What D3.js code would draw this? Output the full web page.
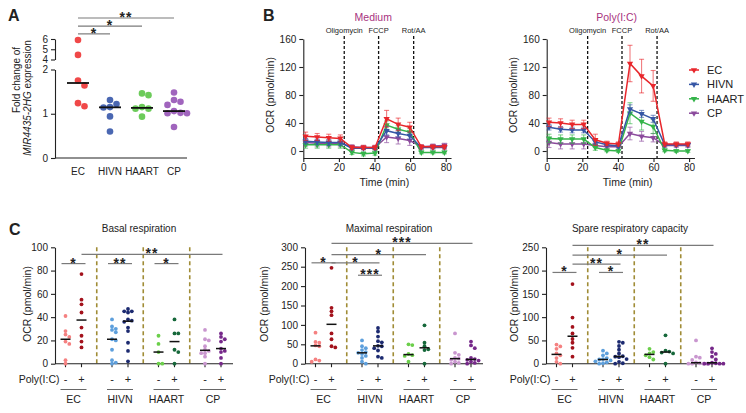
<!DOCTYPE html>
<html>
<head>
<meta charset="utf-8">
<script src="https://cdn.jsdelivr.net/npm/d3@7"></script>
<style>
body { margin: 0; background: #fff; }
svg text { font-family: "Liberation Sans", Arial, sans-serif; fill: #222; }
</style>
</head>
<body>
<svg id="fig" width="746" height="413"></svg>
<script>
var groups = ["EC", "HIVN", "HAART", "CP"];

// A - fold change of MIR4435-2HG expression
var foldEC = [5.9, 4.45, 1.75, 1.64, 1.24, 1.17],
	foldHIVN = [1.31, 1.22, 1.15, 1.14, 0.94, 0.6],
	foldHAART = [1.46, 1.42, 1.15, 1.115, 1.115, 0.935],
	foldCP = [1.48, 1.31, 1.27, 1.2, 1.06, 1.02, 1.01, 1.01, 0.7];
// [target group, bracket height, label], all compared with EC
var foldSig = [[1, 6.5, "*"], [2, 7.25, "*"], [3, 8.05, "**"]];

// B - Seahorse OCR traces (mean, error)
var timePoints = [1.3, 7.8, 14.3, 20.8, 27.3, 33.8, 40.3, 46.8, 53.3, 59.8, 66.3, 72.8, 79.3];
var injectionTimes = [23, 42.3, 62],
	injectionLabels = ["Oligomycin", "FCCP", "Rot/AA"];

var mediumEC = [21, 20, 19, 18, 5, 5, 5, 46, 38, 34, 6, 6, 6],
	mediumHIVN = [14, 13, 12, 12, 4, 4, 4, 29, 25, 22, 5, 5, 5],
	mediumHAART = [9, 9, 9, 9, -2, -4, -3, 37, 31, 27, -2, -2, -2],
	mediumCP = [12, 11, 11, 11, 6, 5, 5, 20, 18, 15, 6, 7, 8];
var mediumErrEC = [6, 5, 5, 5, 3, 3, 3, 12, 9, 7, 3, 3, 3],
	mediumErrHIVN = [4, 4, 4, 4, 2, 2, 2, 6, 5, 5, 2, 2, 2],
	mediumErrHAART = [5, 5, 5, 5, 3, 3, 3, 6, 5, 5, 2, 2, 2],
	mediumErrCP = [5, 5, 5, 5, 3, 3, 3, 8, 8, 7, 3, 3, 3];

var polyEC = [41, 40, 38, 38, 16, 11, 10, 125, 107, 93, 10, 10, 10],
	polyHIVN = [34, 31, 30, 30, 13, 9, 7, 60, 53, 46, 9, 9, 9],
	polyHAART = [18, 17, 17, 17, 5, 1, 0, 54, 42, 35, 1, 0, 0],
	polyCP = [12, 10, 10, 10, 8, 6, 6, 25, 21, 19, 8, 8, 8];
var polyErrEC = [6, 6, 6, 6, 8, 3, 3, 26, 24, 22, 3, 3, 3],
	polyErrHIVN = [4, 4, 4, 4, 3, 2, 2, 6, 5, 5, 2, 2, 2],
	polyErrHAART = [6, 6, 6, 6, 4, 2, 2, 15, 12, 10, 2, 2, 2],
	polyErrCP = [7, 7, 7, 7, 3, 3, 3, 9, 7, 6, 3, 3, 3];

// C - respiration parameters, per group: [EC, HIVN, HAART, CP]
var basalMinus = [[41, 28, 25, 23, 19, 17, 3, 0], [38, 32, 30, 29, 27, 21, 20, 12, 3, 1, 0], [24, 17, 10, 0, 0], [29, 21, 20, 15, 12, 11, 9, 9, 6, 0]],
	basalPlus = [[77, 55, 51, 44, 31, 24, 19, 14], [47, 45, 45, 44, 38, 37, 36, 31, 28, 18, 11, 2], [38, 26, 26, 12, 10, 0], [26, 23, 21, 19, 13, 11, 10, 5, 0]];
var maximalMinus = [[80, 56, 54, 47, 45, 11, 8, 5], [60, 45, 40, 35, 30, 28, 25, 20, 15, 5, 0], [50, 48, 25, 22, 20, 5], [78, 28, 23, 15, 13, 10, 5, 2, 0]],
	maximalPlus = [[247, 144, 135, 125, 78, 63, 45, 42], [92, 83, 70, 58, 55, 46, 45, 40, 34, 18, 15], [99, 54, 45, 37, 35, 0], [57, 47, 40, 15, 12, 10, 8, 5, 2, 0]];
var spareMinus = [[41, 37, 32, 22, 18, 12, 4, 0], [28, 22, 18, 12, 10, 9, 7, 5, 3, 1, 0], [32, 25, 22, 18, 14, 9], [50, 15, 13, 8, 3, 1, 0, 0, 0, 0]],
	sparePlus = [[171, 99, 79, 65, 53, 45, 34, 15], [47, 45, 38, 30, 22, 16, 15, 14, 10, 4, 1, 0], [61, 28, 26, 24, 22, 0], [33, 25, 21, 15, 9, 2, 1, 0, 0, 0, 0]];
// [from group, from cond, to group, to cond, height (data units), label]
var basalSig = [[0, 0, 0, 1, 86, "*"], [1, 0, 1, 1, 86, "**"], [2, 0, 2, 1, 86, "*"], [0, 1, 3, 1, 94, "**"]],
	maximalSig = [[0, 0, 0, 1, 260, "*"], [0, 1, 1, 1, 260, "*"], [1, 0, 1, 1, 228, "***"], [0, 1, 2, 1, 281, "*"], [0, 1, 3, 1, 310, "***"]],
	spareSig = [[0, 0, 0, 1, 196, "*"], [1, 0, 1, 1, 196, "*"], [0, 1, 1, 1, 214, "**"], [0, 1, 2, 1, 233, "*"], [0, 1, 3, 1, 254, "**"]];

// --- STYLE --- //
var ink = "#222",
	dotColorsA = ["#f04848", "#4a67b2", "#6ccb5a", "#a064bd"],
	lineColors = ["#e8262b", "#3656a5", "#35b44a", "#8b4a9c"],
	minusColors = ["#f58181", "#5d9fdc", "#6bcf4a", "#c996cf"],
	plusColors = ["#a3121c", "#1c2a70", "#16683a", "#76288a"],
	titleColor = "#a8327e",
	sigGray = "#7a7a7a",
	dashGold = "#a08c36";

var svg = d3.select("#fig");

function styleAxis(g, size) {
	g.attr("font-family", null).attr("font-size", null);
	g.selectAll(".domain").attr("stroke", ink).attr("stroke-width", 1.1);
	g.selectAll(".tick line").attr("stroke", ink).attr("stroke-width", 1.1);
	g.selectAll(".tick text").attr("fill", ink).style("font-size", (size || 10) + "px");
}

// simple column dodge so equal values sit side by side
function swarm(values, y, r, step) {
	var order = d3.range(values.length).sort(function(a, b) { return values[b] - values[a]; }),
		placed = [],
		offsets = [];
	order.forEach(function(i) {
		var cy = y(values[i]), dx = 0;
		for (var k = 0; k < 40; k++) {
			dx = (k % 2 ? 1 : -1) * Math.ceil(k / 2) * step;
			var hit = placed.some(function(p) { return Math.abs(p.x - dx) < step * 0.9 && Math.abs(p.y - cy) < r * 1.8; });
			if (!hit) break;
		}
		placed.push({x: dx, y: cy});
		offsets[i] = dx;
	});
	return offsets;
}

function letter(t, x, y) {
	svg.append("text").attr("x", x).attr("y", y).text(t)
		.style("font-weight", "bold").style("font-size", "16px");
}

function stars(g, x, y, label) {
	g.append("text").attr("x", x).attr("y", y + 4).attr("text-anchor", "middle")
		.style("font-size", "14px").style("font-weight", "bold").style("letter-spacing", "1px")
		.text(label);
}

// --- PANEL A --- //
letter("A", 8, 21);
var aTop = d3.scaleLinear().domain([4, 6]).range([59.5, 39]),
	aBot = d3.scaleLinear().domain([0, 2]).range([158, 69.5]),
	aY = function(v) { return v > 3 ? aTop(v) : aBot(v); },
	aX = d3.scalePoint().domain(groups).range([78, 174]),
	aLeft = 55, aRight = 187;
var gA = svg.append("g");
gA.append("g").attr("transform", "translate(" + aLeft + ",0)")
	.call(d3.axisLeft(aBot).tickValues([0, 1, 2]).tickFormat(d3.format("d")).tickSize(4).tickSizeOuter(0)).call(styleAxis);
gA.append("g").attr("transform", "translate(" + aLeft + ",0)")
	.call(d3.axisLeft(aTop).tickValues([4, 5, 6]).tickFormat(d3.format("d")).tickSize(4).tickSizeOuter(0)).call(styleAxis);
gA.append("line").attr("x1", aLeft).attr("x2", aRight).attr("y1", aBot(0)).attr("y2", aBot(0))
	.attr("stroke", ink).attr("stroke-width", 1.1);
groups.forEach(function(g) {
	gA.append("text").attr("x", aX(g)).attr("y", 174.5).attr("text-anchor", "middle")
		.style("font-size", "10px").text(g);
});
[foldEC, foldHIVN, foldHAART, foldCP].forEach(function(vals, gi) {
	var cx = aX(groups[gi]),
		off = swarm(vals, aY, 3.3, 6.5);
	gA.selectAll(null).data(vals).enter().append("circle")
		.attr("cx", function(d, i) { return cx + off[i]; })
		.attr("cy", function(d) { return aY(d); })
		.attr("r", 3.3)
		.attr("fill", dotColorsA[gi]);
	var m = d3.median(vals);
	gA.append("line").attr("x1", cx - 11).attr("x2", cx + 11).attr("y1", aY(m)).attr("y2", aY(m))
		.attr("stroke", "#111").attr("stroke-width", 1.8);
});
foldSig.forEach(function(s) {
	var y = aTop(s[1]), x1 = aX(groups[0]), x2 = aX(groups[s[0]]);
	gA.append("line").attr("x1", x1).attr("x2", x2).attr("y1", y).attr("y2", y)
		.attr("stroke", sigGray).attr("stroke-width", 1.2);
	stars(gA, (x1 + x2) / 2, y, s[2]);
});
gA.append("text").attr("transform", "translate(19.5,80) rotate(-90)").attr("text-anchor", "middle")
	.style("font-size", "10px").text("Fold change of");
var t2 = gA.append("text").attr("transform", "translate(31,98) rotate(-90)").attr("text-anchor", "middle")
	.style("font-size", "10px");
t2.append("tspan").style("font-style", "italic").text("MIR4435-2HG");
t2.append("tspan").text(" expression");

// --- PANEL B --- //
letter("B", 263, 21);
var bPanels = [
	{title: "Medium", left: 303.3, series: [mediumEC, mediumHIVN, mediumHAART, mediumCP],
		errors: [mediumErrEC, mediumErrHIVN, mediumErrHAART, mediumErrCP]},
	{title: "Poly(I:C)", left: 546.7, series: [polyEC, polyHIVN, polyHAART, polyCP],
		errors: [polyErrEC, polyErrHIVN, polyErrHAART, polyErrCP], legend: true}
];
var yB = d3.scaleLinear().domain([-10, 160]).range([158, 39]),
	tri = d3.symbol().type(d3.symbolTriangle).size(17);

bPanels.forEach(function(p) {
	var x = d3.scaleLinear().domain([0, 83]).range([p.left, p.left + 83 * 1.78]),
		g = svg.append("g");

	g.append("g").attr("transform", "translate(" + p.left + ",0)")
		.call(d3.axisLeft(yB).tickValues([0, 40, 80, 120, 160]).tickSize(4).tickSizeOuter(0)).call(styleAxis);
	g.append("g").attr("transform", "translate(0," + yB(-10) + ")")
		.call(d3.axisBottom(x).tickValues([0, 20, 40, 60, 80]).tickSize(4).tickPadding(2).tickSizeOuter(0)).call(styleAxis);

	injectionTimes.forEach(function(t, i) {
		g.append("line").attr("x1", x(t)).attr("x2", x(t)).attr("y1", 36).attr("y2", yB(-10))
			.attr("stroke", "#111").attr("stroke-width", 1.3).attr("stroke-dasharray", "3,2");
		g.append("text").attr("x", x(t)).attr("y", 32.5).attr("text-anchor", "middle")
			.style("font-size", "7.5px").text(injectionLabels[i]);
	});

	// CP first so EC ends on top
	[3, 2, 1, 0].forEach(function(s) {
		var vals = p.series[s], errs = p.errors[s], col = lineColors[s];
		var eb = g.append("g").attr("stroke", col).attr("stroke-opacity", 0.6).attr("stroke-width", 1.1);
		vals.forEach(function(v, i) {
			var cx = x(timePoints[i]);
			eb.append("line").attr("x1", cx).attr("x2", cx).attr("y1", yB(v - errs[i])).attr("y2", yB(v + errs[i]));
			eb.append("line").attr("x1", cx - 2.5).attr("x2", cx + 2.5).attr("y1", yB(v + errs[i])).attr("y2", yB(v + errs[i]));
			eb.append("line").attr("x1", cx - 2.5).attr("x2", cx + 2.5).attr("y1", yB(v - errs[i])).attr("y2", yB(v - errs[i]));
		});
		g.append("path").datum(vals)
			.attr("fill", "none").attr("stroke", col).attr("stroke-width", 1.5)
			.attr("d", d3.line().x(function(d, i) { return x(timePoints[i]); }).y(function(d) { return yB(d); }));
		g.selectAll(null).data(vals).enter().append("path")
			.attr("d", tri)
			.attr("transform", function(d, i) { return "translate(" + x(timePoints[i]) + "," + yB(d) + ") rotate(180)"; })
			.attr("fill", col);
	});

	g.append("text").attr("x", p.left + 70).attr("y", 21).attr("text-anchor", "middle")
		.style("font-size", "10.5px").style("fill", titleColor).text(p.title);
	g.append("text").attr("x", x(45.5)).attr("y", 185.5).attr("text-anchor", "middle")
		.style("font-size", "10.5px").text("Time (min)");
	g.append("text").attr("transform", "translate(" + (p.left - 29.5) + ",95) rotate(-90)").attr("text-anchor", "middle")
		.style("font-size", "10.5px").text("OCR (pmol/min)");

	if (p.legend) {
		groups.forEach(function(name, i) {
			var ly = 70 + i * 14.4, lx = 694;
			g.append("line").attr("x1", lx - 5).attr("x2", lx + 5).attr("y1", ly).attr("y2", ly)
				.attr("stroke", lineColors[i]).attr("stroke-width", 1.5);
			g.append("path").attr("d", tri).attr("transform", "translate(" + lx + "," + ly + ") rotate(180)")
				.attr("fill", lineColors[i]);
			g.append("text").attr("x", lx + 13).attr("y", ly + 4).style("font-size", "11px").text(name);
		});
	}
});

// --- PANEL C --- //
letter("C", 9, 235);
var cPanels = [
	{title: "Basal respiration", left: 55, max: 100, step: 20, minus: basalMinus, plus: basalPlus, sig: basalSig, titleDx: -24},
	{title: "Maximal respiration", left: 305, max: 300, step: 50, minus: maximalMinus, plus: maximalPlus, sig: maximalSig, titleDx: -37.5},
	{title: "Spare respiratory capacity", left: 546, max: 250, step: 50, minus: spareMinus, plus: sparePlus, sig: spareSig, titleDx: -28.5}
];
var cBottom = 363.7, cTop = 247.3, groupStep = 46.5, subDx = 8;

cPanels.forEach(function(p) {
	var y = d3.scaleLinear().domain([0, p.max]).range([cBottom, cTop]),
		gx = d3.scalePoint().domain(groups).range([p.left + 18.5, p.left + 18.5 + 3 * groupStep]),
		sub = function(gi, c) { return gx(groups[gi]) + (c ? subDx : -subDx); },
		right = p.left + 178,
		g = svg.append("g");

	// group separators
	for (var i = 0; i < 3; i++) {
		var xm = (gx(groups[i]) + gx(groups[i + 1])) / 2;
		g.append("line").attr("x1", xm).attr("x2", xm).attr("y1", cTop).attr("y2", cBottom)
			.attr("stroke", dashGold).attr("stroke-width", 1.6).attr("stroke-dasharray", "4,3");
	}

	g.append("g").attr("transform", "translate(" + p.left + ",0)")
		.call(d3.axisLeft(y).tickValues(d3.range(0, p.max + 1, p.step)).tickSize(4).tickSizeOuter(0)).call(styleAxis);
	g.append("line").attr("x1", p.left).attr("x2", right).attr("y1", cBottom).attr("y2", cBottom)
		.attr("stroke", ink).attr("stroke-width", 1.1);

	groups.forEach(function(name, gi) {
		[p.minus[gi], p.plus[gi]].forEach(function(vals, c) {
			var cx = sub(gi, c),
				off = swarm(vals, y, 1.9, 3.8);
			g.append("line").attr("x1", cx).attr("x2", cx).attr("y1", cBottom).attr("y2", cBottom + 3.5)
				.attr("stroke", ink).attr("stroke-width", 1.1);
			g.selectAll(null).data(vals).enter().append("circle")
				.attr("cx", function(d, i) { return cx + off[i]; })
				.attr("cy", function(d) { return y(d); })
				.attr("r", 1.9)
				.attr("fill", c ? plusColors[gi] : minusColors[gi]);
			var m = d3.median(vals);
			g.append("line").attr("x1", cx - 5).attr("x2", cx + 5).attr("y1", y(m)).attr("y2", y(m))
				.attr("stroke", "#111").attr("stroke-width", 1.5);
			g.append("text").attr("x", cx).attr("y", 383).attr("text-anchor", "middle")
				.style("font-size", "11px").text(c ? "+" : "-");
		});
		var gc = gx(name);
		g.append("line").attr("x1", gc - 13).attr("x2", gc + 13).attr("y1", 389.5).attr("y2", 389.5)
			.attr("stroke", "#666").attr("stroke-width", 1);
		g.append("text").attr("x", gc).attr("y", 403).attr("text-anchor", "middle")
			.style("font-size", "10.5px").text(name);
	});

	g.append("text").attr("x", sub(0, 0) - 6).attr("y", 383).attr("text-anchor", "end")
		.style("font-size", "10.5px").text("Poly(I:C)");

	p.sig.forEach(function(s) {
		var yy = y(s[4]), x1, x2;
		if (s[0] === s[2]) {
			x1 = sub(s[0], s[1]) - 4; x2 = sub(s[2], s[3]) + 4;
		} else {
			x1 = sub(s[0], s[1]); x2 = sub(s[2], s[3]) + 1.5;
		}
		g.append("line").attr("x1", x1).attr("x2", x2).attr("y1", yy).attr("y2", yy)
			.attr("stroke", sigGray).attr("stroke-width", 1.2);
		stars(g, (x1 + x2) / 2, yy, s[5]);
	});

	g.append("text").attr("x", p.left + 84).attr("y", 232).attr("text-anchor", "middle")
		.style("font-size", "10px").text(p.title);
	g.append("text").attr("transform", "translate(" + (p.left + p.titleDx) + ",304) rotate(-90)")
		.attr("text-anchor", "middle").style("font-size", "10.5px").text("OCR (pmol/min)");
});
</script>
</body>
</html>
